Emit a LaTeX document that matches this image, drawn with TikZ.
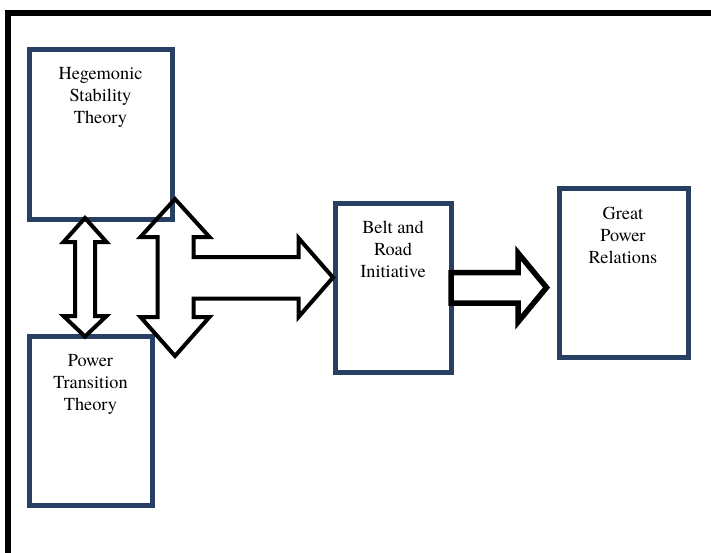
\documentclass[tikz,border=0pt]{standalone}
\usepackage{fontspec}
\setmainfont{TeX Gyre Termes}
\definecolor{boxblue}{HTML}{263F62}
\begin{document}
\begin{tikzpicture}[x=1pt,y=-1pt,
  theorybox/.style={draw=boxblue, line width=5pt, inner sep=0pt, fill=none},
  boxtext/.style={anchor=north, inner sep=0pt, align=center,
    font={\fontsize{18.3}{22}\selectfont}},
  blockarrow/.style={draw=black, line width=4pt, line join=miter, fill=none},
  thickarrow/.style={draw=black, line width=5.5pt, line join=miter, fill=none}]
\useasboundingbox (0,0) rectangle (711,552);
% outer frame (only top and left edges are visible)
\draw[line width=5.5pt] (7.8,600) -- (7.8,12.8) -- (760,12.8);

% boxes
\node[theorybox, minimum width=143pt, minimum height=170pt] (hst) at (101,134.5) {};
\node[theorybox, minimum width=123pt, minimum height=169pt] (ptt) at (91,421) {};
\node[theorybox, minimum width=116pt, minimum height=169.5pt] (bri) at (393.5,287.75) {};
\node[theorybox, minimum width=129.5pt, minimum height=169pt] (gpr) at (623.75,273) {};

% texts
\node[boxtext] (hstt) at (100.5,67.5) {Hegemonic\\Stability\\Theory};
\node[boxtext] (pttt) at (90.5,354.5) {Power\\Transition\\Theory};
\node[boxtext] (brit) at (393,221) {Belt and\\Road\\Initiative};
\node[boxtext] (gprt) at (623,206.5) {Great\\Power\\Relations};

% small double arrow between the two theories
\draw[blockarrow] (85,218) -- (106.5,242) -- (95,242) -- (95,316) -- (106.5,316)
  -- (85,336.5) -- (63.5,316) -- (75,316) -- (75,242) -- (63.5,242) -- cycle;

% three-way arrow
\draw[blockarrow] (175,199) -- (209.5,237) -- (193.5,237) -- (193.5,257)
  -- (298.5,257) -- (298.5,238) -- (333,277.5) -- (298.5,317) -- (298.5,298.5)
  -- (193.5,298.5) -- (193.5,317) -- (209.5,317) -- (175,356) -- (140.5,317)
  -- (157.5,317) -- (157.5,237) -- (140.5,237) -- cycle;

% arrow from Belt and Road to Great Power Relations
\draw[thickarrow] (451,272.5) -- (518,272.5) -- (518,253) -- (546.5,287.5)
  -- (518,322) -- (518,303) -- (451,303) -- cycle;
\end{tikzpicture}
\end{document}
